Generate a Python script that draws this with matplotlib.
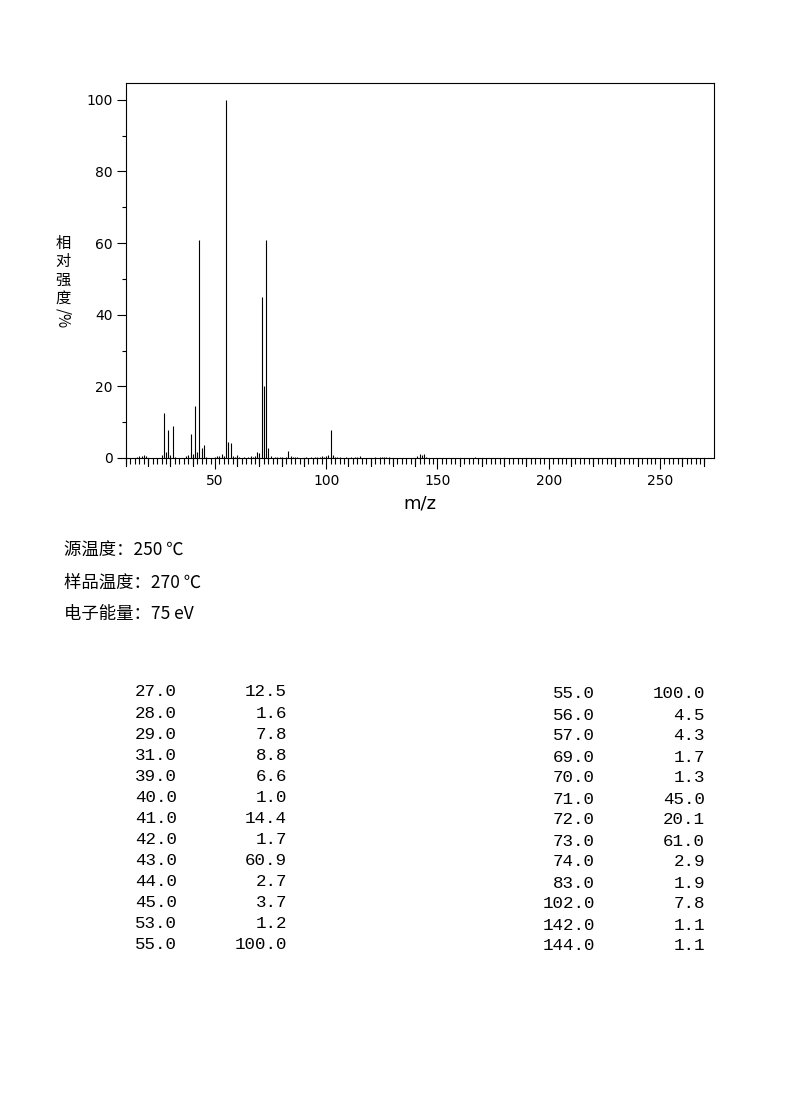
import numpy as np
import matplotlib
matplotlib.use('Agg')
import matplotlib.pyplot as plt
from matplotlib.transforms import blended_transform_factory

# listed peaks (m/z, relative intensity %)
peak_mz = [27.0, 28.0, 29.0, 31.0, 39.0, 40.0, 41.0, 42.0, 43.0, 44.0, 45.0, 53.0, 55.0,
           56.0, 57.0, 69.0, 70.0, 71.0, 72.0, 73.0, 74.0, 83.0, 102.0, 142.0, 144.0]
peak_int = [12.5, 1.6, 7.8, 8.8, 6.6, 1.0, 14.4, 1.7, 60.9, 2.7, 3.7, 1.2, 100.0,
            4.5, 4.3, 1.7, 1.3, 45.0, 20.1, 61.0, 2.9, 1.9, 7.8, 1.1, 1.1]

# small unlisted peaks
minor_mz = [15, 16, 17, 18, 19, 26, 30, 32, 37, 38, 46, 50, 51, 52, 54, 58, 59, 60, 61,
            63, 65, 66, 67, 68, 75, 77, 78, 79, 80, 82, 84, 85, 86, 87, 91, 93, 95, 96,
            97, 98, 99, 100, 101, 103, 104, 105, 106, 109, 111, 113, 114, 115, 122,
            124, 125, 126, 127, 128, 141, 143, 145, 167]
minor_int = [0.4, 0.6, 0.5, 0.9, 0.6, 0.7, 0.9, 0.3, 0.5, 0.8, 0.3, 0.4, 0.6, 0.5, 0.6,
             0.6, 0.4, 0.9, 0.3, 0.3, 0.4, 0.5, 0.4, 0.5, 0.5, 0.3, 0.3, 0.3, 0.3, 0.3,
             0.5, 0.3, 0.3, 0.3, 0.3, 0.3, 0.3, 0.4, 0.3, 0.5, 0.3, 0.5, 0.9, 0.7, 0.3,
             0.3, 0.3, 0.3, 0.3, 0.3, 0.4, 0.5, 0.3, 0.3, 0.3, 0.3, 0.3, 0.4, 0.5, 0.7,
             0.4, 0.3]

info_lines = ['源温度：250 ℃', '样品温度：270 ℃', '电子能量：75 eV']
ylabel_chars = ['相', '对', '强', '度']

W, H = 794, 1106
fig = plt.figure(figsize=(W / 100, H / 100), dpi=100)
cjk = ['Noto Sans CJK SC', 'DejaVu Sans']

ax = fig.add_axes([126 / W, 1 - 458 / H, 588 / W, 375 / H])
ax.vlines(minor_mz, 0, minor_int, colors='k', linewidth=0.8)
ax.vlines(peak_mz, 0, peak_int, colors='k', linewidth=0.8)
ax.set_xlim(10.1, 274.3)
ax.set_ylim(0, 104.7)

for s in ax.spines.values():
    s.set_linewidth(0.8)

ax.set_yticks(np.arange(0, 101, 20))
ax.set_yticks(np.arange(10, 100, 20), minor=True)
ax.set_xticks(np.arange(50, 251, 50))
ax.set_xticks(np.arange(10, 272, 2), minor=True)
ax.tick_params(axis='y', which='major', length=6.5, width=0.8, labelsize=10, pad=3)
ax.tick_params(axis='y', which='minor', length=3, width=0.8)
ax.tick_params(axis='x', which='major', length=8, width=0.8, labelsize=10, pad=3.5)
ax.tick_params(axis='x', which='minor', length=4, width=0.8)

# medium ticks every 10 units
trans = blended_transform_factory(ax.transData, ax.transAxes)
for t in range(10, 271, 10):
    if t % 50 != 0:
        ax.plot([t, t], [0, -7.7 / 375], color='k', linewidth=0.8,
                transform=trans, clip_on=False)

ax.set_xlabel('m/z', fontsize=13, labelpad=5)

# vertical y label
for i, ch in enumerate(ylabel_chars):
    fig.text(63 / W, 1 - (243 + 18.5 * i) / H, ch, family=cjk, fontsize=11,
             ha='center', va='center')
fig.text(63 / W, 1 - 318 / H, '/%', family=cjk, fontsize=11, rotation=270,
         ha='center', va='center')

for i, line in enumerate(info_lines):
    fig.text(64 / W, 1 - (551 + 31.5 * i) / H, line, family=cjk, fontsize=12.5,
             ha='left', va='center')

# peak table
n_left = 13
left_mz, left_int = peak_mz[:n_left], peak_int[:n_left]
right_mz, right_int = peak_mz[n_left - 1:], peak_int[n_left - 1:]
mono = 'Liberation Mono'
for i, (m, v) in enumerate(zip(left_mz, left_int)):
    y = 1 - (692 + 21.08 * i) / H
    fig.text(177 / W, y, f'{m:.1f}', family=mono, fontsize=12.6, ha='right', va='center')
    fig.text(287 / W, y, f'{v:.1f}', family=mono, fontsize=12.6, ha='right', va='center')
for i, (m, v) in enumerate(zip(right_mz, right_int)):
    y = 1 - (694 + 21.0 * i) / H
    fig.text(595 / W, y, f'{m:.1f}', family=mono, fontsize=12.6, ha='right', va='center')
    fig.text(705 / W, y, f'{v:.1f}', family=mono, fontsize=12.6, ha='right', va='center')

fig.savefig('out.png', dpi=100)
